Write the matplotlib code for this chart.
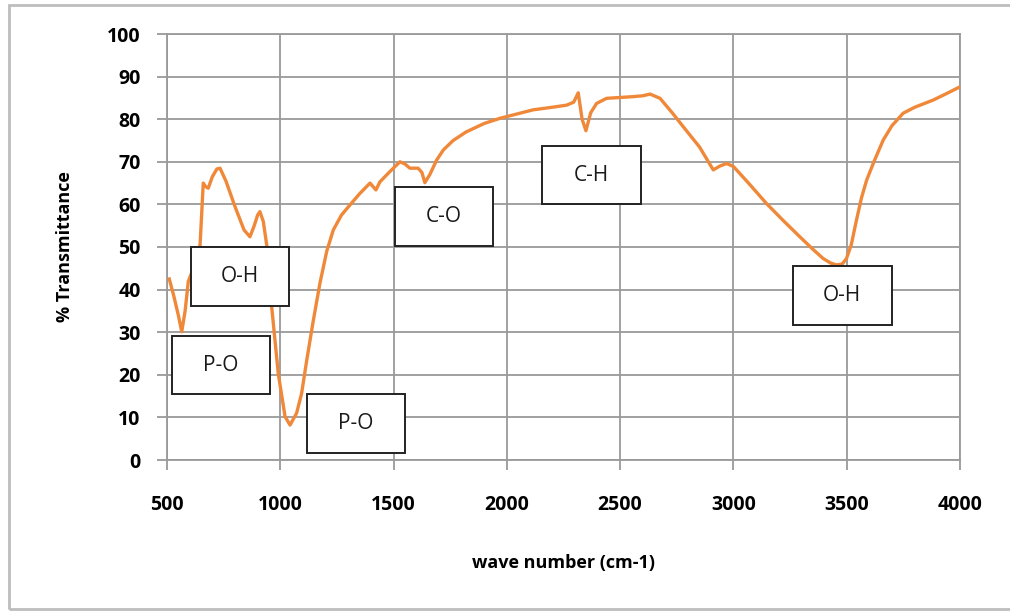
import matplotlib
matplotlib.use('Agg')
from matplotlib import pyplot as plt
from matplotlib.patches import Rectangle

# IR spectrum
wave = [510, 530, 550, 565, 580, 594, 620, 646, 660, 670, 682, 700, 720, 734, 760,
        800, 840, 866, 885, 900, 910, 925, 940, 950, 962, 991, 1021, 1043, 1072,
        1094, 1117, 1145, 1175, 1205, 1234, 1270, 1308, 1350, 1396, 1422, 1440,
        1480, 1528, 1550, 1572, 1608, 1625, 1638, 1660, 1690, 1720, 1763, 1820,
        1900, 1969, 2050, 2116, 2200, 2264, 2295, 2315, 2332, 2349, 2370, 2396,
        2440, 2500, 2558, 2600, 2632, 2676, 2730, 2779, 2850, 2911, 2940, 2970,
        3000, 3070, 3146, 3220, 3293, 3350, 3396, 3430, 3455, 3480, 3499, 3520,
        3543, 3565, 3588, 3620, 3661, 3700, 3749, 3800, 3882, 3940, 4000]
trans = [42.5, 38.5, 34.0, 30.1, 35.0, 41.9, 45.5, 50.5, 65.0, 64.2, 63.8, 66.5, 68.3, 68.5, 65.5,
         59.5, 54.0, 52.4, 55.0, 57.5, 58.3, 56.0, 50.5, 44.0, 36.0, 20.3, 10.2, 8.2, 11.0,
         15.6, 23.5, 32.5, 41.5, 49.0, 54.0, 57.5, 59.9, 62.5, 65.0, 63.4, 65.3,
         67.5, 70.0, 69.5, 68.5, 68.5, 67.5, 65.1, 67.0, 70.4, 72.8, 75.0, 77.0,
         79.0, 80.2, 81.3, 82.2, 82.8, 83.3, 84.0, 86.2, 80.0, 77.3, 81.5, 83.7,
         84.9, 85.1, 85.3, 85.5, 85.9, 84.9, 81.5, 78.2, 73.5, 68.1, 69.0, 69.6,
         68.9, 64.8, 60.2, 56.2, 52.4, 49.5, 47.3, 46.2, 45.8, 46.0, 47.3, 50.5,
         56.3, 61.5, 65.7, 70.0, 75.1, 78.5, 81.4, 82.8, 84.5, 86.0, 87.6]

# band labels: text, lower-left corner (wave number, %T)
labels = ['O-H', 'P-O', 'P-O', 'C-O', 'C-H', 'O-H']
label_x = [605, 521, 1117, 1506, 2156, 3263]
label_y = [36.2, 15.4, 1.6, 50.2, 60.0, 31.7]
box_w = 435
box_h = 13.8

fig = plt.figure(figsize=(10.10, 6.11), dpi=100)
ax = fig.add_axes([167/1010, 1-460/611, 793/1010, 426/611])

ax.plot(wave, trans, color='#F0883A', lw=2.4, solid_joinstyle='round', zorder=3)

for t, x, y in zip(labels, label_x, label_y):
    ax.add_patch(Rectangle((x, y), box_w, box_h, facecolor='white',
                           edgecolor='#222222', lw=1.4, zorder=4))
    ax.text(x + box_w/2, y + box_h/2, t, ha='center', va='center',
            fontsize=15, family='Open Sans', color='#1a1a1a', zorder=5)

ax.set_xlim(500, 4000)
ax.set_ylim(0, 100)
ax.set_xticks(range(500, 4001, 500))
ax.set_yticks(range(0, 101, 10))
ax.grid(True, color='#9a9a9a', lw=1.3)
ax.set_axisbelow(True)
for s in ax.spines.values():
    s.set_color('#9a9a9a')
    s.set_linewidth(1.3)
ax.tick_params(direction='out', length=7, width=1.3, color='#9a9a9a')
ax.tick_params(axis='x', pad=18)
ax.tick_params(axis='y', pad=12)
for lab in ax.get_xticklabels() + ax.get_yticklabels():
    lab.set_fontsize(14)
    lab.set_fontweight('bold')
    lab.set_family('Open Sans')
ax.set_xlabel('wave number (cm-1)', fontsize=13, fontweight='bold', family='Open Sans', labelpad=28)
ax.set_ylabel('% Transmittance', fontsize=13, fontweight='bold', family='Open Sans', labelpad=24)

# chart frame
fig.patches.append(Rectangle((9/1010, 2/611), 1.1, 604/611, transform=fig.transFigure,
                             fill=False, edgecolor='#bdbdbd', lw=2))

fig.savefig('out.png', dpi=100)
